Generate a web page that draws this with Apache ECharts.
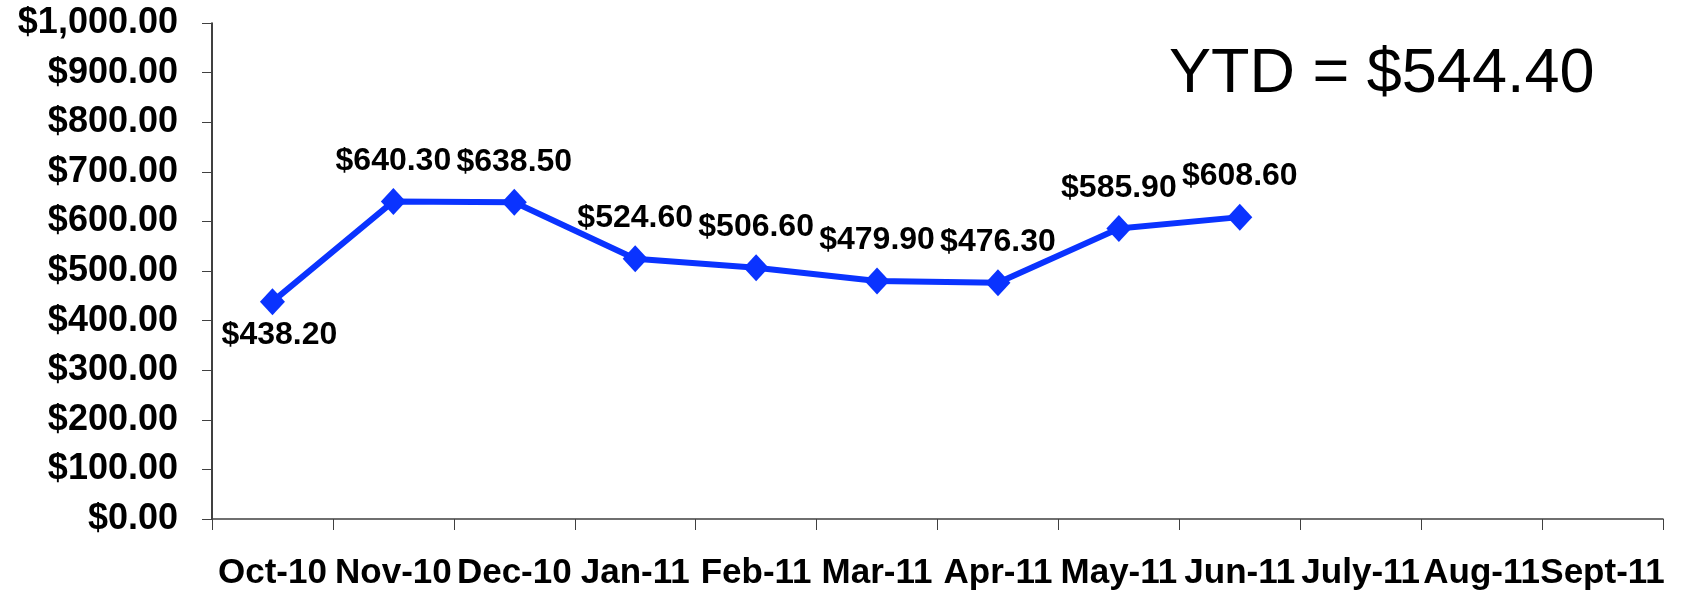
<!DOCTYPE html>
<html>
<head>
<meta charset="utf-8">
<script src="https://cdn.jsdelivr.net/npm/echarts@6/dist/echarts.min.js"></script>
<style>
  html, body { margin: 0; padding: 0; background: #fff; }
  #main { width: 1682px; height: 597px; }
</style>
</head>
<body>
<div id="main"></div>
<script>
var months = ['Oct-10', 'Nov-10', 'Dec-10', 'Jan-11', 'Feb-11', 'Mar-11',
              'Apr-11', 'May-11', 'Jun-11', 'July-11', 'Aug-11', 'Sept-11'];
var costs = [438.20, 640.30, 638.50, 524.60, 506.60, 479.90,
             476.30, 585.90, 608.60, null, null, null];
var ytdText = 'YTD = $544.40';

var font = "'Liberation Sans', Arial, sans-serif";
var blue = '#0a33ff';

function money(v) {
    return '$' + Number(v).toLocaleString('en-US', { minimumFractionDigits: 2, maximumFractionDigits: 2 });
}

// first point has its label under the marker, nudged right a bit
var points = costs.map(function (v, i) {
    var item = { value: v };
    if (i === 0) item.label = { position: 'bottom', distance: 4, offset: [7, 0] };
    return item;
});

var myChart = echarts.init(document.getElementById('main'));
myChart.setOption({
    animation: false,
    grid: { left: 212, right: 19, top: 23, bottom: 78 },
    xAxis: {
        type: 'category',
        data: months,
        boundaryGap: true,
        axisLine: { lineStyle: { color: '#404040', width: 1.5 } },
        axisTick: { show: true, length: 11, lineStyle: { color: '#404040' } },
        axisLabel: {
            interval: 0,
            margin: 37,
            color: '#000',
            fontFamily: font,
            fontWeight: 'bold',
            fontSize: 35
        }
    },
    yAxis: {
        type: 'value',
        min: 0,
        max: 1000,
        interval: 100,
        splitLine: { show: false },
        axisLine: { show: true, lineStyle: { color: '#000', width: 1.5 } },
        axisTick: { show: true, length: 10, lineStyle: { color: '#404040' } },
        axisLabel: {
            margin: 34,
            color: '#000',
            fontFamily: font,
            fontWeight: 'bold',
            fontSize: 36,
            formatter: money
        }
    },
    series: [
        {
            type: 'line',
            data: points,
            symbol: 'diamond',
            symbolSize: [25, 27],
            connectNulls: false,
            lineStyle: { color: blue, width: 6 },
            itemStyle: { color: blue },
            label: {
                show: true,
                position: 'top',
                distance: 11,
                color: '#000',
                fontFamily: font,
                fontWeight: 'bold',
                fontSize: 32,
                formatter: function (p) { return money(p.value); }
            }
        }
    ],
    graphic: [
        {
            type: 'text',
            left: 1169,
            top: 43,
            style: {
                text: ytdText,
                fill: '#000',
                font: '63px ' + font
            }
        }
    ]
});
</script>
</body>
</html>
